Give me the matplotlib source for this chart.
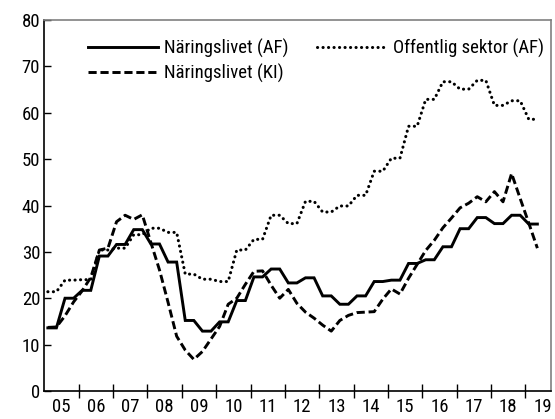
import matplotlib
matplotlib.use("Agg")
import matplotlib.pyplot as plt
from matplotlib import font_manager as fm
import numpy as np

# ---- data (quarterly, 2005Q1 .. 2019Q2) ----
years = list(range(2005, 2020))
year_labels = ["05", "06", "07", "08", "09", "10", "11", "12", "13", "14",
               "15", "16", "17", "18", "19"]

naringsliv_af = [13.6, 13.6, 20.0, 20.0, 21.7, 21.7, 29.1, 29.1,
                 31.6, 31.6, 34.8, 34.8, 31.7, 31.7, 27.8, 27.8,
                 15.2, 15.2, 12.9, 12.9, 14.9, 14.9, 19.5, 19.5,
                 24.6, 24.6, 26.3, 26.3, 23.3, 23.3, 24.4, 24.4,
                 20.5, 20.5, 18.7, 18.7, 20.5, 20.5, 23.6, 23.6,
                 23.9, 23.9, 27.5, 27.5, 28.3, 28.3, 31.1, 31.1,
                 35.0, 35.0, 37.4, 37.4, 36.1, 36.1, 37.9, 37.9,
                 36.0, 36.0]

offentlig_af = [21.4, 21.4, 23.9, 23.9, 24.0, 24.0, 30.4, 30.4,
                30.8, 30.8, 33.7, 33.7, 35.1, 35.1, 34.2, 34.2,
                25.2, 25.2, 24.1, 24.1, 23.6, 23.6, 30.4, 30.4,
                32.7, 32.7, 37.9, 37.9, 36.1, 36.1, 40.9, 40.9,
                38.6, 38.6, 39.9, 39.9, 42.2, 42.2, 47.4, 47.4,
                50.2, 50.2, 57.1, 57.1, 62.9, 62.9, 66.7, 66.7,
                65.1, 65.1, 67.0, 67.0, 61.6, 61.6, 62.6, 62.6,
                58.6, 58.6]

naringsliv_ki = [13.7, 13.8, 16.2, 19.2, 21.6, 24.5, 30.4, 30.8,
                 36.5, 37.9, 37.0, 38.0, 32.0, 26.1, 19.1, 11.8,
                 8.8, 6.8, 8.5, 11.2, 13.9, 18.7, 20.0, 23.0,
                 25.8, 25.9, 22.8, 20.0, 21.9, 18.9, 17.0, 15.7,
                 14.2, 12.9, 15.2, 16.3, 16.9, 17.0, 17.1, 19.8,
                 22.0, 20.9, 24.3, 27.3, 30.3, 32.5, 35.2, 37.3,
                 39.5, 40.5, 41.9, 40.8, 43.0, 40.8, 46.9, 41.5,
                 36.2, 30.8]

n = len(naringsliv_ki)
x = 2005 + 0.1 + np.arange(n) / 4.0

# ---- font: prefer a condensed face ----
names = sorted({f.name for f in fm.fontManager.ttflist})
condensed = None
for cand in ["Roboto Condensed", "Liberation Sans Narrow", "Open Sans Condensed",
             "Noto Sans Condensed", "DejaVu Sans Condensed"]:
    if cand in names:
        condensed = cand
        break
if condensed is None:
    for nm in names:
        if "Condensed" in nm or "Narrow" in nm:
            condensed = nm
            break

if condensed is not None:
    plt.rcParams["font.family"] = [condensed, "DejaVu Sans"]
    fs = 13.5
    lfs = 13.5
    hl = 3.75
    csp = 1.5
    anchor_x = 0.052
else:
    plt.rcParams["font.family"] = ["DejaVu Sans"]
    fs = 11.5
    lfs = 11.5
    hl = 3.6
    csp = 0.6
    anchor_x = 0.052

fig = plt.figure(figsize=(5.55, 4.19), dpi=100)
ax = fig.add_axes([0.080, 0.067, 0.913, 0.885])

lw = 2.1
l1, = ax.plot(x, naringsliv_af, color="black", lw=lw, solid_joinstyle="miter",
              label="Näringslivet (AF)")
l2, = ax.plot(x, naringsliv_ki, color="black", lw=lw, linestyle=(0, (2.8, 1.3)),
              label="Näringslivet (KI)")
l3, = ax.plot(x, offentlig_af, color="black", lw=2.2, linestyle=(0, (0.05, 1.75)),
              dash_capstyle="round", label="Offentlig sektor (AF)")

ax.set_xlim(2005, 2019.75)
ax.set_ylim(0, 80)
ax.set_yticks(range(0, 81, 10))
ax.tick_params(axis="y", direction="in", length=5, width=1, labelsize=fs, pad=3)

ax.set_xticks(years[1:])
ax.set_xticklabels([])
ax.set_xticks([y + 0.5 for y in years], minor=True)
ax.set_xticklabels(year_labels, minor=True)
ax.tick_params(axis="x", which="major", direction="inout", length=10, width=1)
ax.tick_params(axis="x", which="minor", length=0, labelsize=fs, pad=5)

for s in ["left", "bottom"]:
    ax.spines[s].set_color("black")
    ax.spines[s].set_linewidth(1.2)
for s in ["top", "right"]:
    ax.spines[s].set_color("#808080")
    ax.spines[s].set_linewidth(1.2)

leg = ax.legend(handles=[l1, l2, l3], ncol=2, loc="upper left",
                bbox_to_anchor=(anchor_x, 0.995), frameon=False, fontsize=lfs,
                handlelength=hl, handletextpad=0.32, columnspacing=csp,
                labelspacing=0.3)

fig.savefig("out.png", dpi=100)
